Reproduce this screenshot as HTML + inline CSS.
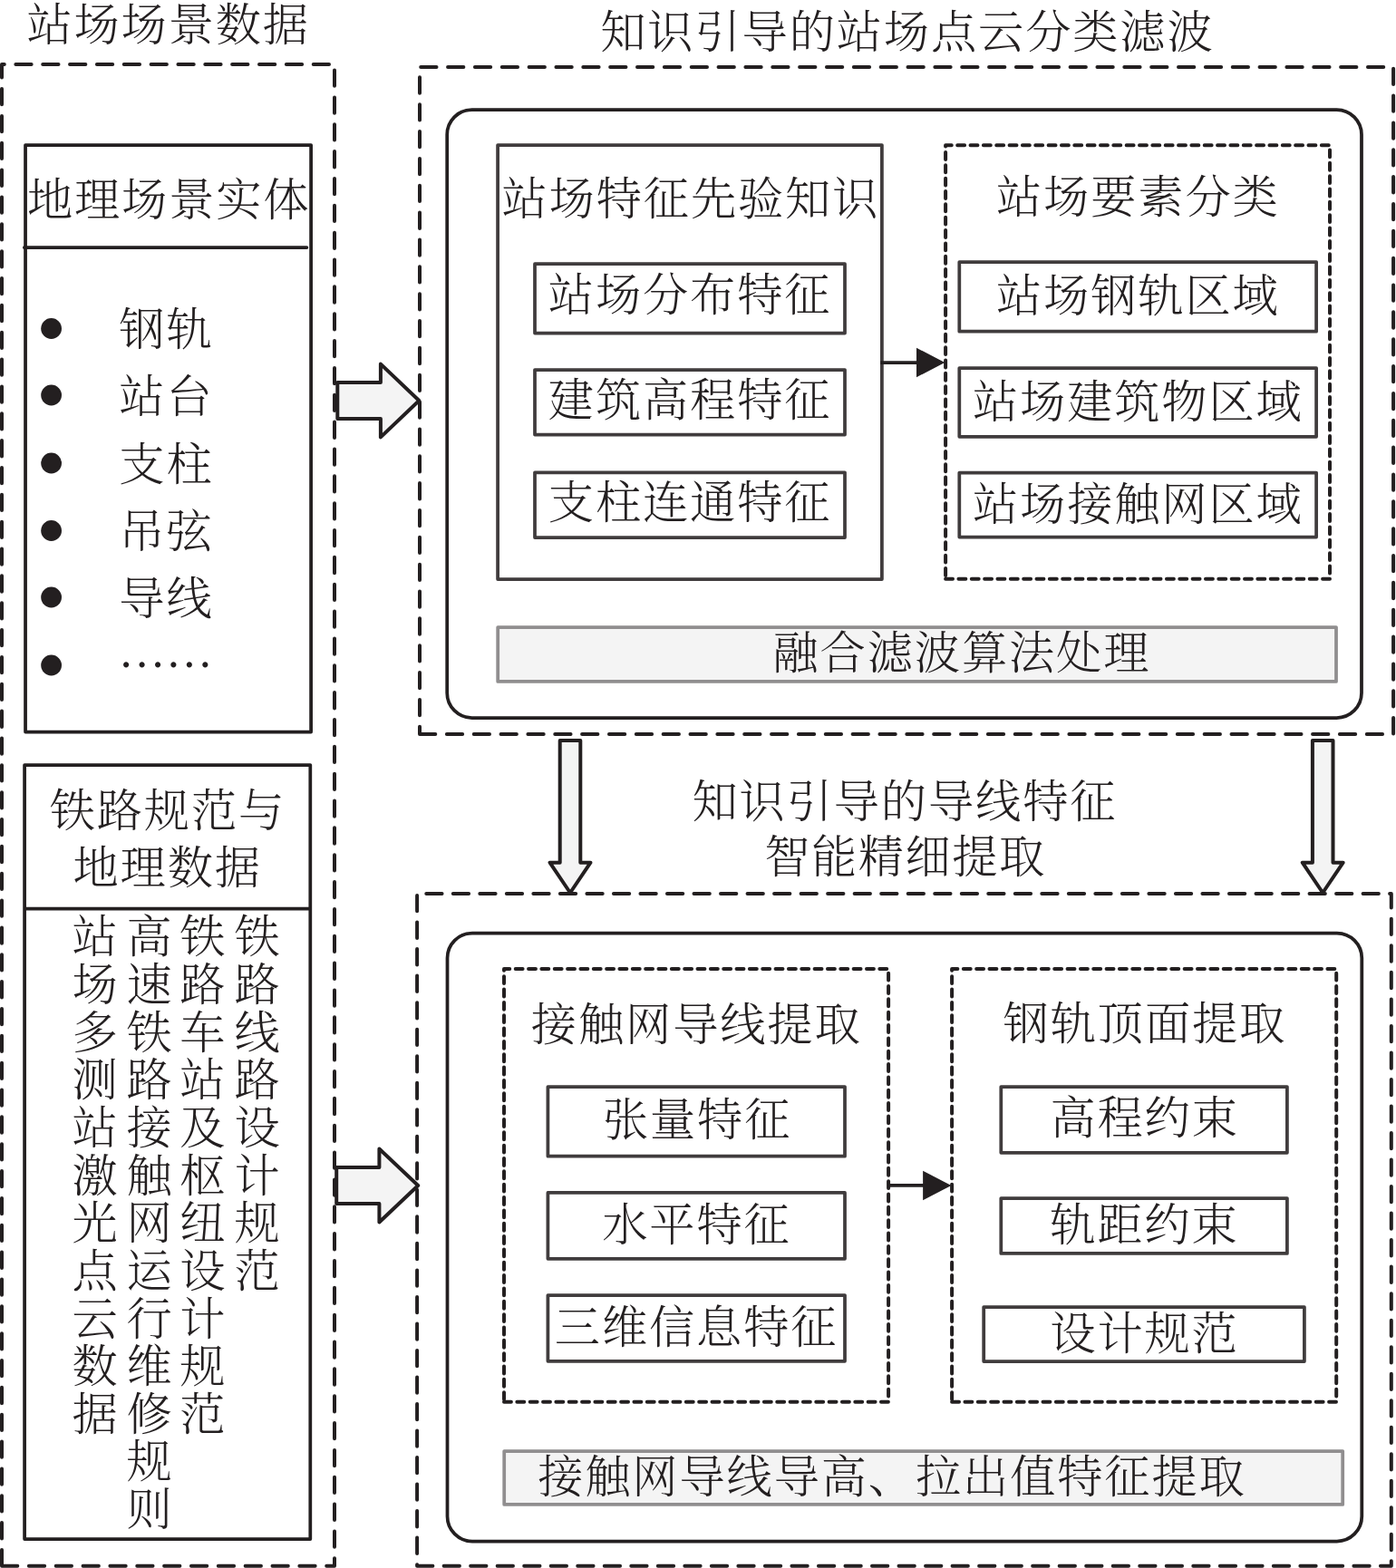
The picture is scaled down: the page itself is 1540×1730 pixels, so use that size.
<!DOCTYPE html>
<html lang="zh-CN">
<head>
<meta charset="utf-8">
<title>知识引导的站场点云分类滤波与导线特征智能精细提取</title>
<style>
html,body{margin:0;padding:0;background:#fff;}
body{width:1540px;height:1730px;overflow:hidden;}
svg{display:block;}
text{font-family:"Liberation Serif","Noto Serif CJK SC",serif;font-weight:300;fill:#231f20;}
</style>
</head>
<body>
<svg width="1540" height="1730" viewBox="0 0 1540 1730">
<rect x="0" y="0" width="1540" height="1730" fill="#ffffff"/>
<text x="185.70" y="44.71" font-size="50.3" letter-spacing="1.8" text-anchor="middle">站场场景数据</text>
<text x="1000.90" y="52.91" font-size="50.3" letter-spacing="1.8" text-anchor="middle">知识引导的站场点云分类滤波</text>
<text x="997.90" y="902.11" font-size="50.3" letter-spacing="1.8" text-anchor="middle">知识引导的导线特征</text>
<text x="998.52" y="963.11" font-size="50.3" letter-spacing="1.45" text-anchor="middle">智能精细提取</text>
<path d="M2.0,1727.8 H369 V71 H2.0 Z" fill="none" stroke="#231f20" stroke-width="4.0" stroke-dasharray="17.3 12.55" stroke-dashoffset="0" stroke-linecap="round" stroke-linejoin="round"/>
<rect x="28.05" y="160" width="315.05" height="647.50" fill="none" stroke="#231f20" stroke-width="3.75" stroke-linejoin="round"/>
<line x1="26.8" y1="273" x2="338.4" y2="273" stroke="#231f20" stroke-width="3.75" stroke-linecap="round"/>
<text x="186.20" y="238.21" font-size="50.3" letter-spacing="1.8" text-anchor="middle">地理场景实体</text>
<circle cx="56.6" cy="362.5" r="11.4" fill="#231f20"/>
<text x="183.40" y="381.31" font-size="50.3" letter-spacing="1.8" text-anchor="middle">钢轨</text>
<circle cx="56.6" cy="436" r="11.4" fill="#231f20"/>
<text x="183.40" y="454.81" font-size="50.3" letter-spacing="1.8" text-anchor="middle">站台</text>
<circle cx="56.6" cy="511" r="11.4" fill="#231f20"/>
<text x="183.40" y="529.81" font-size="50.3" letter-spacing="1.8" text-anchor="middle">支柱</text>
<circle cx="56.6" cy="585.5" r="11.4" fill="#231f20"/>
<text x="183.40" y="604.31" font-size="50.3" letter-spacing="1.8" text-anchor="middle">吊弦</text>
<circle cx="56.6" cy="659" r="11.4" fill="#231f20"/>
<text x="183.40" y="677.81" font-size="50.3" letter-spacing="1.8" text-anchor="middle">导线</text>
<circle cx="56.6" cy="734" r="11.4" fill="#231f20"/>
<text x="130.6" y="735.50" font-size="52.2" letter-spacing="0">……</text>
<rect x="27.1" y="844" width="315.20" height="854.00" fill="none" stroke="#231f20" stroke-width="3.75" stroke-linejoin="round"/>
<line x1="27.1" y1="1002.5" x2="342.3" y2="1002.5" stroke="#231f20" stroke-width="3.75"/>
<text x="184.90" y="912.41" font-size="50.3" letter-spacing="1.8" text-anchor="middle">铁路规范与</text>
<text x="184.70" y="975.11" font-size="50.3" letter-spacing="1.8" text-anchor="middle">地理数据</text>
<text x="104.70 104.70 104.70 104.70 104.70 104.70 104.70 104.70 104.70 104.70 104.70" y="1051.41 1104.05 1156.69 1209.33 1261.97 1314.61 1367.25 1419.89 1472.53 1525.17 1577.81" font-size="50.3" text-anchor="middle">站场多测站激光点云数据</text>
<text x="164.60 164.60 164.60 164.60 164.60 164.60 164.60 164.60 164.60 164.60 164.60 164.60 164.60" y="1051.41 1104.05 1156.69 1209.33 1261.97 1314.61 1367.25 1419.89 1472.53 1525.17 1577.81 1630.45 1683.09" font-size="50.3" text-anchor="middle">高速铁路接触网运行维修规则</text>
<text x="223.30 223.30 223.30 223.30 223.30 223.30 223.30 223.30 223.30 223.30 223.30" y="1051.41 1104.05 1156.69 1209.33 1261.97 1314.61 1367.25 1419.89 1472.53 1525.17 1577.81" font-size="50.3" text-anchor="middle">铁路车站及枢纽设计规范</text>
<text x="283.60 283.60 283.60 283.60 283.60 283.60 283.60 283.60" y="1051.41 1104.05 1156.69 1209.33 1261.97 1314.61 1367.25 1419.89" font-size="50.3" text-anchor="middle">铁路线路设计规范</text>
<polygon points="372.3,421.9 419.9,421.9 419.9,401.6 462.3,442 419.9,482.4 419.9,462.1 372.3,462.1" fill="#f4f4f4" stroke="#231f20" stroke-width="4" stroke-linejoin="round"/>
<polygon points="371.2,1287.95 418.4,1287.95 418.4,1267.55 461.2,1308 418.4,1348.45 418.4,1328.05 371.2,1328.05" fill="#f4f4f4" stroke="#231f20" stroke-width="4" stroke-linejoin="round"/>
<path d="M463,809.9 H1537.1 V74 H463 Z" fill="none" stroke="#231f20" stroke-width="4.0" stroke-dasharray="17.3 12.55" stroke-dashoffset="0" stroke-linecap="round" stroke-linejoin="round"/>
<rect x="493.2" y="121" width="1008.80" height="671.00" rx="27.5" ry="27.5" fill="none" stroke="#231f20" stroke-width="3.75" stroke-linejoin="round"/>
<rect x="549.1" y="160" width="423.80" height="479.00" fill="none" stroke="#403c3d" stroke-width="3.75" stroke-linejoin="round"/>
<text x="761.90" y="237.11" font-size="50.3" letter-spacing="1.8" text-anchor="middle">站场特征先验知识</text>
<rect x="590" y="291.2" width="342.00" height="76.40" fill="none" stroke="#403c3d" stroke-width="3.75" stroke-linejoin="round"/>
<text x="761.10" y="343.41" font-size="50.3" letter-spacing="1.8" text-anchor="middle">站场分布特征</text>
<rect x="590" y="408.1" width="342.00" height="71.50" fill="none" stroke="#403c3d" stroke-width="3.75" stroke-linejoin="round"/>
<text x="761.10" y="458.51" font-size="50.3" letter-spacing="1.8" text-anchor="middle">建筑高程特征</text>
<rect x="590" y="521.3" width="342.00" height="71.70" fill="none" stroke="#403c3d" stroke-width="3.75" stroke-linejoin="round"/>
<text x="761.10" y="572.01" font-size="50.3" letter-spacing="1.8" text-anchor="middle">支柱连通特征</text>
<path d="M1043.1,638.8 H1467 V160.3 H1043.1 Z" fill="none" stroke="#231f20" stroke-width="4.0" stroke-dasharray="7.9 6.444" stroke-dashoffset="0" stroke-linecap="round" stroke-linejoin="round"/>
<text x="1255.30" y="235.31" font-size="50.3" letter-spacing="1.8" text-anchor="middle">站场要素分类</text>
<rect x="1058.3" y="289.1" width="393.80" height="76.60" fill="none" stroke="#403c3d" stroke-width="3.75" stroke-linejoin="round"/>
<text x="1255.30" y="343.61" font-size="50.3" letter-spacing="1.8" text-anchor="middle">站场钢轨区域</text>
<rect x="1058.3" y="406.1" width="393.80" height="75.70" fill="none" stroke="#403c3d" stroke-width="3.75" stroke-linejoin="round"/>
<text x="1255.30" y="460.51" font-size="50.3" letter-spacing="1.8" text-anchor="middle">站场建筑物区域</text>
<rect x="1058.3" y="521.6" width="393.80" height="70.90" fill="none" stroke="#403c3d" stroke-width="3.75" stroke-linejoin="round"/>
<text x="1255.30" y="574.41" font-size="50.3" letter-spacing="1.8" text-anchor="middle">站场接触网区域</text>
<line x1="971.2" y1="400" x2="1013.0" y2="400" stroke="#231f20" stroke-width="3.75"/>
<polygon points="1011.0,383.75 1042.3,400 1011.0,416.25" fill="#231f20"/>
<rect x="549.2" y="692.1" width="924.80" height="59.80" fill="#f4f4f4" stroke="#908e8f" stroke-width="3.75" stroke-linejoin="round"/>
<text x="1060.90" y="738.11" font-size="50.3" letter-spacing="1.8" text-anchor="middle">融合滤波算法处理</text>
<polygon points="617.7,817 640.3,817 640.3,951.7 651.5,951.7 629,985 606.5,951.7 617.7,951.7" fill="#f4f4f4" stroke="#231f20" stroke-width="4" stroke-linejoin="round"/>
<polygon points="1447.9,817 1470.5,817 1470.5,951.7 1481.7,951.7 1459.2,985 1436.7,951.7 1447.9,951.7" fill="#f4f4f4" stroke="#231f20" stroke-width="4" stroke-linejoin="round"/>
<path d="M460.1,1727.8 H1534.8 V986 H460.1 Z" fill="none" stroke="#231f20" stroke-width="4.0" stroke-dasharray="17.3 12.223" stroke-dashoffset="0" stroke-linecap="round" stroke-linejoin="round"/>
<rect x="493.5" y="1029.5" width="1008.80" height="671.00" rx="27.5" ry="27.5" fill="none" stroke="#231f20" stroke-width="3.75" stroke-linejoin="round"/>
<path d="M556,1546.8 H980.1 V1069.1 H556 Z" fill="none" stroke="#231f20" stroke-width="4.0" stroke-dasharray="7.9 6.444" stroke-dashoffset="0" stroke-linecap="round" stroke-linejoin="round"/>
<text x="768.20" y="1147.71" font-size="50.3" letter-spacing="1.8" text-anchor="middle">接触网导线提取</text>
<rect x="604.4" y="1199" width="327.60" height="76.70" fill="none" stroke="#403c3d" stroke-width="3.75" stroke-linejoin="round"/>
<text x="769.10" y="1253.21" font-size="50.3" letter-spacing="1.8" text-anchor="middle">张量特征</text>
<rect x="604.4" y="1315.9" width="327.60" height="72.90" fill="none" stroke="#403c3d" stroke-width="3.75" stroke-linejoin="round"/>
<text x="768.40" y="1368.61" font-size="50.3" letter-spacing="1.8" text-anchor="middle">水平特征</text>
<rect x="604.4" y="1429" width="327.60" height="72.80" fill="none" stroke="#403c3d" stroke-width="3.75" stroke-linejoin="round"/>
<text x="768.10" y="1482.21" font-size="50.3" letter-spacing="1.8" text-anchor="middle">三维信息特征</text>
<path d="M1050.1,1546.8 H1474.2 V1069.1 H1050.1 Z" fill="none" stroke="#231f20" stroke-width="4.0" stroke-dasharray="7.9 6.444" stroke-dashoffset="0" stroke-linecap="round" stroke-linejoin="round"/>
<text x="1262.90" y="1147.11" font-size="50.3" letter-spacing="1.8" text-anchor="middle">钢轨顶面提取</text>
<rect x="1104.3" y="1199" width="315.60" height="72.80" fill="none" stroke="#403c3d" stroke-width="3.75" stroke-linejoin="round"/>
<text x="1262.70" y="1251.31" font-size="50.3" letter-spacing="1.8" text-anchor="middle">高程约束</text>
<rect x="1104.3" y="1322" width="315.60" height="60.90" fill="none" stroke="#403c3d" stroke-width="3.75" stroke-linejoin="round"/>
<text x="1262.40" y="1368.91" font-size="50.3" letter-spacing="1.8" text-anchor="middle">轨距约束</text>
<rect x="1085.2" y="1442.1" width="353.70" height="60.00" fill="none" stroke="#403c3d" stroke-width="3.75" stroke-linejoin="round"/>
<text x="1262.50" y="1488.91" font-size="50.3" letter-spacing="1.8" text-anchor="middle">设计规范</text>
<line x1="980" y1="1307.9" x2="1020.1000000000001" y2="1307.9" stroke="#231f20" stroke-width="3.75"/>
<polygon points="1018.1000000000001,1291.65 1049.4,1307.9 1018.1000000000001,1324.15" fill="#231f20"/>
<rect x="556.2" y="1601" width="925.00" height="58.90" fill="#f4f4f4" stroke="#908e8f" stroke-width="3.75" stroke-linejoin="round"/>
<text x="983.90" y="1647.11" font-size="50.3" letter-spacing="1.8" text-anchor="middle">接触网导线导高、拉出值特征提取</text>
</svg>
</body>
</html>
